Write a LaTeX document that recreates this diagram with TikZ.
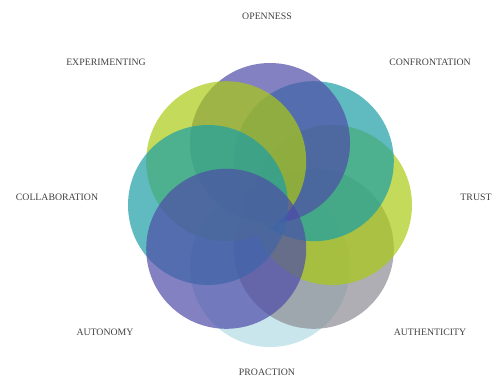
\documentclass[tikz,border=0pt]{standalone}
\usepackage{fontspec}
\setmainfont{Liberation Serif}
\begin{document}
\begin{tikzpicture}[x=1pt,y=-1pt,
  petal/.style={circle, draw=none, minimum size=160pt, inner sep=0pt, fill opacity=0.7},
  tag/.style={font=\fontsize{9.8}{11}\selectfont, text=black!75}]
\definecolor{violetc}{RGB}{78,76,168}
\definecolor{tealc}{RGB}{27,158,165}
\definecolor{limec}{RGB}{170,202,20}
\definecolor{greyc}{RGB}{140,140,148}
\definecolor{icec}{RGB}{176,219,226}
\useasboundingbox (0,0) rectangle (497,378);
% eight overlapping circles around the centre (270,205)
\node[petal, fill=icec]   (proaction-c)     at (270,267) {};
\node[petal, fill=greyc]  (authenticity-c)  at (313.8,248.8) {};
\node[petal, fill=limec]  (trust-c)         at (332,205) {};
\node[petal, fill=tealc]  (confrontation-c) at (313.8,161.2) {};
\node[petal, fill=violetc](openness-c)      at (270,143) {};
\node[petal, fill=limec]  (experimenting-c) at (226.2,161.2) {};
\node[petal, fill=tealc]  (collaboration-c) at (208,205) {};
\node[petal, fill=violetc](autonomy-c)      at (226.2,248.8) {};
% labels
\node[tag] (openness)      at (267,16)  {OPENNESS};
\node[tag] (experimenting) at (106,62)  {EXPERIMENTING};
\node[tag] (confrontation) at (430,62)  {CONFRONTATION};
\node[tag] (collaboration) at (57,197)  {COLLABORATION};
\node[tag] (trust)         at (476,197) {TRUST};
\node[tag] (autonomy)      at (105,332) {AUTONOMY};
\node[tag] (authenticity)  at (430,332) {AUTHENTICITY};
\node[tag] (proaction)     at (267,372) {PROACTION};
\end{tikzpicture}
\end{document}
